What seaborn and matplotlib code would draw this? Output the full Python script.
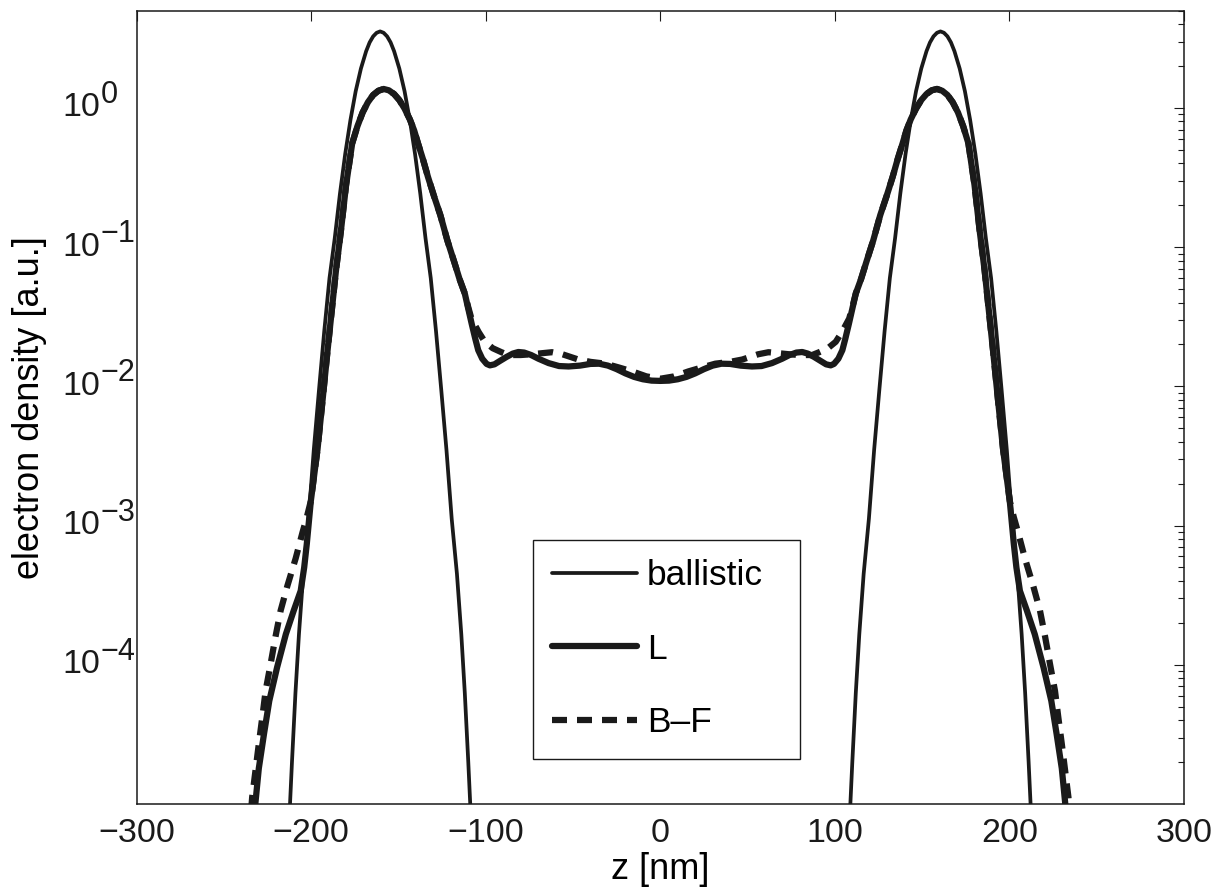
import numpy as np
import matplotlib
matplotlib.use('Agg')
import matplotlib.pyplot as plt
import matplotlib.transforms as mtransforms
import seaborn as sns
from matplotlib.ticker import LogLocator, NullFormatter

# ballistic: two narrow peaks
ballistic_z = [-214, -212.5, -211, -209, -207, -204.5, -201.5, -198.5, -195.5, -192.5, -189.5, -186.5,
               -183.5, -180.5, -177.5, -174.5, -171.5, -168.5, -166.5, -164.5, -162.5, -160.5, -158.5,
               -156.5, -154.5, -152.5, -149.5, -146.5, -143.5, -140.5, -137.5, -134.5, -131.5, -128.5,
               -125.5, -122.5, -119.5, -116.5, -114, -112, -110, -108.5, -107,
               107, 108.5, 110, 112, 114, 116.5, 119.5, 122.5, 125.5, 128.5, 131.5, 134.5, 137.5, 140.5,
               143.5, 146.5, 149.5, 152.5, 154.5, 156.5, 158.5, 160.5, 162.5, 164.5, 166.5, 168.5, 171.5,
               174.5, 177.5, 180.5, 183.5, 186.5, 189.5, 192.5, 195.5, 198.5, 201.5, 204.5, 207, 209, 211,
               212.5, 214]
ballistic_n = [3.2e-6, 7.9e-6, 2.0e-5, 6.3e-5, 1.66e-4, 4.5e-4, 1.12e-3, 3.5e-3, 9.5e-3, 0.025, 0.060, 0.116,
               0.243, 0.468, 0.82, 1.32, 1.92, 2.56, 2.96, 3.27, 3.47, 3.55, 3.47,
               3.27, 2.96, 2.56, 1.92, 1.32, 0.82, 0.468, 0.243, 0.116, 0.060, 0.025,
               9.5e-3, 3.5e-3, 1.12e-3, 4.5e-4, 1.66e-4, 6.3e-5, 2.0e-5, 7.9e-6, 3.2e-6,
               3.2e-6, 7.9e-6, 2.0e-5, 6.3e-5, 1.66e-4, 4.5e-4, 1.12e-3, 3.5e-3, 9.5e-3, 0.025, 0.060, 0.116, 0.243, 0.468,
               0.82, 1.32, 1.92, 2.56, 2.96, 3.27, 3.47, 3.55, 3.47, 3.27, 2.96, 2.56, 1.92,
               1.32, 0.82, 0.468, 0.243, 0.116, 0.060, 0.025, 9.5e-3, 3.5e-3, 1.12e-3, 4.5e-4, 1.66e-4, 6.3e-5, 2.0e-5,
               7.9e-6, 3.2e-6]

# L model
L_z = [-234, -232, -230, -227, -224, -219.5, -214.5, -210, -206, -204, -202.5, -200.2, -198.3, -196.4,
       -193.5, -190.6, -188, -185.8, -183, -180, -176.5, -173.5, -170.5, -167.5, -164.5, -161.5, -158.5,
       -155.5, -152.5, -149.5, -146.5, -143.5, -141, -138.8, -136, -133.1, -129.5, -126, -122, -118, -115,
       -112, -110, -108, -106, -104.3, -102, -99.5, -97.6, -95, -92, -88, -84.5, -81.3, -78, -74, -69.8,
       -64, -58, -52.5, -46, -40, -35, -30, -25, -20, -15, -10, -5, 0,
       5, 10, 15, 20, 25, 30, 35, 40, 46, 52.5, 58, 64, 69.8, 74, 78, 81.3, 84.5, 88, 92, 95, 97.6, 99.5,
       102, 104.3, 106, 108, 110, 112, 115, 118, 122, 126, 129.5, 133.1, 136, 138.8, 141, 143.5, 146.5,
       149.5, 152.5, 155.5, 158.5, 161.5, 164.5, 167.5, 170.5, 173.5, 176.5, 180, 183, 185.8, 188, 190.6,
       193.5, 196.4, 198.3, 200.2, 202.5, 204, 206, 210, 214.5, 219.5, 224, 227, 230, 232, 234]
L_n = [5e-6, 1.0e-5, 1.8e-5, 3.2e-5, 5.5e-5, 9.6e-5, 1.66e-4, 2.45e-4, 3.4e-4, 5.0e-4, 7.4e-4, 1.5e-3, 2.3e-3, 3.5e-3,
       7.9e-3, 0.0182, 0.037, 0.068, 0.13, 0.28, 0.557, 0.74, 0.93, 1.10, 1.24, 1.33, 1.37,
       1.34, 1.26, 1.14, 0.99, 0.83, 0.69, 0.557, 0.43, 0.32, 0.23, 0.17, 0.112, 0.078, 0.059,
       0.0465, 0.036, 0.028, 0.022, 0.0182, 0.0158, 0.0145, 0.01416, 0.0144, 0.0152, 0.0163, 0.0172, 0.01766, 0.0175, 0.0168, 0.0158,
       0.0147, 0.0140, 0.0139, 0.0141, 0.0145, 0.01455, 0.0141, 0.0133, 0.0124, 0.0117, 0.01125, 0.0110, 0.01095,
       0.0110, 0.01125, 0.0117, 0.0124, 0.0133, 0.0141, 0.01455, 0.0145, 0.0141, 0.0139, 0.0140, 0.0147, 0.0158, 0.0168, 0.0175, 0.01766, 0.0172, 0.0163, 0.0152, 0.0144, 0.01416, 0.0145,
       0.0158, 0.0182, 0.022, 0.028, 0.036, 0.0465, 0.059, 0.078, 0.112, 0.17, 0.23, 0.32, 0.43, 0.557, 0.69, 0.83, 0.99,
       1.14, 1.26, 1.34, 1.37, 1.33, 1.24, 1.10, 0.93, 0.74, 0.557, 0.28, 0.13, 0.068, 0.037, 0.0182,
       7.9e-3, 3.5e-3, 2.3e-3, 1.5e-3, 7.4e-4, 5.0e-4, 3.4e-4, 2.45e-4, 1.66e-4, 9.6e-5, 5.5e-5, 3.2e-5, 1.8e-5, 1.0e-5, 5e-6]

# B-F model
BF_z = [-235.5, -233.8, -231.9, -230, -228, -226.1, -223.2, -220.4, -217.5, -213.6, -208.9, -205, -202.5,
        -200.2, -198.3, -196.4, -193.5, -190.6, -188, -185.8, -183, -180, -176.5, -173.5, -170.5, -167.5,
        -164.5, -161.5, -158.5, -155.5, -152.5, -149.5, -146.5, -143.5, -141, -138.8, -136, -133.1, -129.5,
        -126, -122, -118, -115, -112, -110, -108.2, -104, -100.5, -96, -91, -87, -80, -74, -68, -62, -56,
        -47, -40, -31.5, -24, -16, -8, 0,
        8, 16, 24, 31.5, 40, 47, 56, 62, 68, 74, 80, 87, 91, 96, 100.5, 104, 108.2, 110, 112, 115, 118, 122,
        126, 129.5, 133.1, 136, 138.8, 141, 143.5, 146.5, 149.5, 152.5, 155.5, 158.5, 161.5, 164.5, 167.5,
        170.5, 173.5, 176.5, 180, 183, 185.8, 188, 190.6, 193.5, 196.4, 198.3, 200.2, 202.5, 205, 208.9,
        213.6, 217.5, 220.4, 223.2, 226.1, 228, 230, 231.9, 233.8, 235.5]
BF_n = [6e-6, 1.12e-5, 1.74e-5, 2.7e-5, 4.2e-5, 6.5e-5, 1.02e-4, 1.6e-4, 2.45e-4, 3.7e-4, 5.8e-4, 8.9e-4, 1.15e-3,
        1.5e-3, 2.3e-3, 3.5e-3, 7.9e-3, 0.0182, 0.037, 0.068, 0.13, 0.28, 0.557, 0.74, 0.93, 1.10,
        1.24, 1.33, 1.37, 1.34, 1.26, 1.14, 0.99, 0.83, 0.69, 0.557, 0.43, 0.32, 0.23,
        0.17, 0.112, 0.078, 0.059, 0.0465, 0.037, 0.0307, 0.0245, 0.0209, 0.0188, 0.0176, 0.0168, 0.0168, 0.0170, 0.0173, 0.0176, 0.0170,
        0.0156, 0.0150, 0.01456, 0.0137, 0.0128, 0.0118, 0.01135,
        0.0118, 0.0128, 0.0137, 0.01456, 0.0150, 0.0156, 0.0170, 0.0176, 0.0173, 0.0170, 0.0168, 0.0168, 0.0176, 0.0188, 0.0209, 0.0245, 0.0307, 0.037, 0.0465, 0.059, 0.078, 0.112,
        0.17, 0.23, 0.32, 0.43, 0.557, 0.69, 0.83, 0.99, 1.14, 1.26, 1.34, 1.37, 1.33, 1.24, 1.10,
        0.93, 0.74, 0.557, 0.28, 0.13, 0.068, 0.037, 0.0182, 7.9e-3, 3.5e-3, 2.3e-3, 1.5e-3, 1.15e-3, 8.9e-4, 5.8e-4,
        3.7e-4, 2.45e-4, 1.6e-4, 1.02e-4, 6.5e-5, 4.2e-5, 2.7e-5, 1.74e-5, 1.12e-5, 6e-6]

x_ticks = [-300, -200, -100, 0, 100, 200, 300]
y_ticks = [1e-4, 1e-3, 1e-2, 1e-1, 1e0]
y_exponents = ['\u22124', '\u22123', '\u22122', '\u22121', '0']

sns.set_theme(style='white')
plt.rcParams['font.family'] = ['Liberation Sans', 'DejaVu Sans']
plt.rcParams['text.color'] = 'black'
plt.rcParams['axes.labelcolor'] = 'black'

fig = plt.figure(figsize=(12.23, 8.92), dpi=100)
ax = fig.add_axes([0.1117, 0.0987, 0.8564, 0.8893])
ax.set_yscale('log')

sns.lineplot(x=ballistic_z, y=ballistic_n, ax=ax, sort=False, estimator=None,
             color='k', linewidth=2.7, label='ballistic')
sns.lineplot(x=L_z, y=L_n, ax=ax, sort=False, estimator=None,
             color='k', linewidth=4.5, label='L')
sns.lineplot(x=BF_z, y=BF_n, ax=ax, sort=False, estimator=None,
             color='k', linewidth=4.5, linestyle=(0, (2.4, 1.6)), label='B\u2013F')

ax.set_xlim(-300, 300)
ax.set_ylim(1e-5, 5)
ax.set_xticks(x_ticks)
ax.set_yticks(y_ticks)
ax.yaxis.set_minor_locator(LogLocator(base=10, subs=np.arange(2, 10)))
ax.yaxis.set_minor_formatter(NullFormatter())

ax.tick_params(which='both', direction='in', top=True, right=True, colors='k', labelsize=24.5)
ax.tick_params(which='major', length=7.5, width=0.8, pad=10)
ax.tick_params(which='minor', length=4, width=0.8)
ax.tick_params(axis='y', labelleft=False)
for s in ax.spines.values():
    s.set_color('k')
    s.set_linewidth(1.1)

# y tick labels as 10 with a large superscript, as in the original
trans = mtransforms.blended_transform_factory(ax.transAxes, ax.transData)
sup_trans = mtransforms.offset_copy(trans, fig=fig, x=0, y=13, units='dots')
for val, ex in zip(y_ticks, y_exponents):
    ax.text(-0.035, val, '10', transform=trans, ha='right', va='center', fontsize=24.5, color='k')
    ax.text(-0.0345, val, ex, transform=sup_trans, ha='left', va='center', fontsize=22, color='k')

ax.set_xlabel('z [nm]', fontsize=26, labelpad=2)
ax.set_ylabel('electron density [a.u.]', fontsize=26)
ax.yaxis.set_label_coords(-0.086, 0.5)

leg = ax.legend(loc='upper left', bbox_to_anchor=(0.378, 0.080, 0.255, 0.253), mode='expand',
                borderaxespad=0, fontsize=25.5, frameon=True, fancybox=False, framealpha=1,
                handlelength=2.4, handletextpad=0.28, labelspacing=1.14, borderpad=0.55)
leg.get_frame().set_edgecolor('k')
leg.get_frame().set_linewidth(1.0)

fig.savefig('out.png', dpi=100)
